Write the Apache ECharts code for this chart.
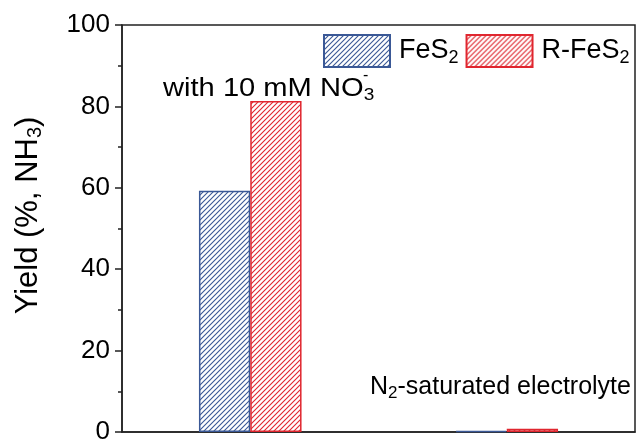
<!DOCTYPE html>
<html>
<head>
<meta charset="utf-8">
<script src="https://cdn.jsdelivr.net/npm/echarts@6/dist/echarts.min.js"></script>
<style>html,body{margin:0;padding:0;background:#fff}#c{width:638px;height:445px}</style>
</head>
<body>
<div id="c"></div>
<script>
const categories = ['with 10 mM NO3-', 'N2-saturated electrolyte'];
const fes2 = [59.3, 0.3];
const rfes2 = [81.3, 0.8];
const yTicks = [0, 20, 40, 60, 80, 100];

const BLUE = '#3a5896';
const RED = '#e0262f';
const FONT = '"Liberation Sans", Arial, sans-serif';

function hatch(color) {
  const T = 5;
  const c = document.createElement('canvas');
  c.width = T; c.height = T;
  const g = c.getContext('2d');
  g.fillStyle = '#fff';
  g.fillRect(0, 0, T, T);
  g.strokeStyle = color;
  g.lineWidth = 1.1;
  g.beginPath();
  g.moveTo(-1, T + 1); g.lineTo(T + 1, -1);
  g.moveTo(-2, 2); g.lineTo(2, -2);
  g.moveTo(T - 2, T + 2); g.lineTo(T + 2, T - 2);
  g.stroke();
  return { image: c, repeat: 'repeat' };
}

const chart = echarts.init(document.getElementById('c'), null, { renderer: 'canvas' });
chart.setOption({
  animation: false,
  backgroundColor: '#fff',
  textStyle: { fontFamily: FONT },
  grid: { left: 122, right: 3, top: 25, bottom: 7, show: true, borderColor: '#222', borderWidth: 1.5, backgroundColor: 'transparent' },
  legend: {
    left: 318, top: 29, itemWidth: 66, itemHeight: 32, itemGap: 7,
    icon: 'rect',
    textStyle: { fontSize: 27, fontFamily: FONT, color: '#000', padding: [0, 0, 0, 4],
      rich: { sub: { fontSize: 18, fontFamily: FONT, color: '#000', padding: [14, 0, 0, 0] } } },
    formatter: n => n === 'FeS2' ? 'FeS{sub|2}' : 'R-FeS{sub|2}',
    data: ['FeS2', 'R-FeS2']
  },
  xAxis: {
    type: 'category', data: categories,
    axisLine: { lineStyle: { color: '#222', width: 1.5 } },
    axisTick: { show: false }, axisLabel: { show: false }
  },
  yAxis: {
    type: 'value', min: 0, max: 100, interval: 20,
    name: 'Yield (%, NH{sub|3})', nameLocation: 'middle', nameRotate: 90, nameGap: 77,
    nameTextStyle: { fontSize: 31, fontFamily: FONT, color: '#000', padding: [0, 0, 0, 26],
      rich: { sub: { fontSize: 20, fontFamily: FONT, color: '#000', padding: [14, 0, 0, 0] } } },
    axisLine: { show: true, lineStyle: { color: '#222', width: 1.5 } },
    axisTick: { show: true, length: 7, lineStyle: { color: '#222', width: 1.5 } },
    minorTick: { show: true, splitNumber: 2, length: 4, lineStyle: { color: '#222', width: 1.5 } },
    splitLine: { show: false },
    axisLabel: { fontSize: 26, color: '#000', margin: 12, fontFamily: FONT,
      formatter: v => yTicks.includes(v) ? String(v) : '' }
  },
  series: [
    { name: 'FeS2', type: 'bar', data: fes2, barWidth: '20%', barGap: '0%',
      itemStyle: { color: hatch(BLUE), borderColor: BLUE, borderWidth: 1.5 } },
    { name: 'R-FeS2', type: 'bar', data: rfes2, barWidth: '20%',
      itemStyle: { color: hatch(RED), borderColor: RED, borderWidth: 1.5 } }
  ],
  graphic: [
    { type: 'text', x: 163, y: 74, scaleX: 1.12, style: { text: 'with 10 mM NO{sub|3}', fontSize: 26, fontFamily: FONT, fill: '#000', rich: { sub: { fontSize: 17, fontFamily: FONT, fill: '#000', padding: [13, 0, 0, 0] } } } },
    { type: 'text', x: 363, y: 68, style: { text: '-', fontSize: 16, fontFamily: FONT, fill: '#000' } },
    { type: 'text', x: 370, y: 373, style: { text: 'N{sub|2}-saturated electrolyte', fontSize: 25, fontFamily: FONT, fill: '#000', rich: { sub: { fontSize: 17, fontFamily: FONT, fill: '#000', padding: [12, 0, 0, 0] } } } }
  ]
});
</script>
</body>
</html>
